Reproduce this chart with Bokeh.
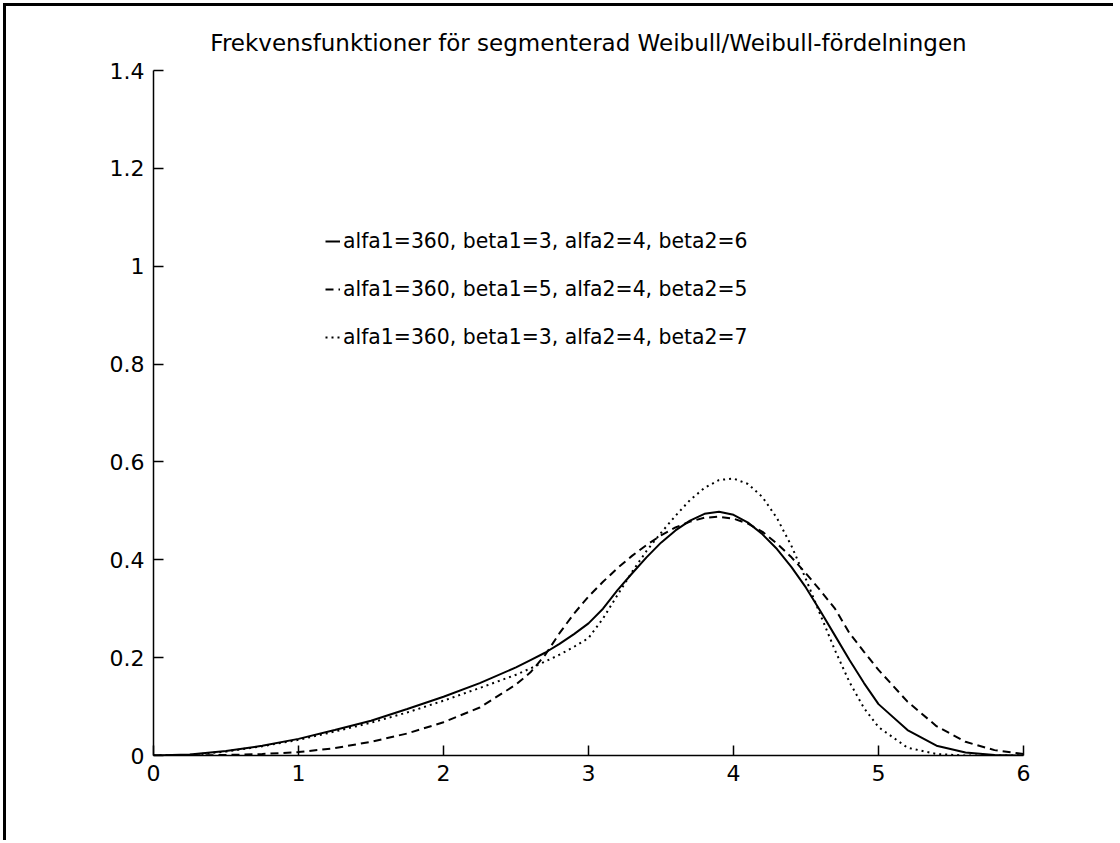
from bokeh.plotting import figure
from bokeh.models import Range1d, FixedTicker, Legend, LegendItem
from bokeh.embed import file_html
from bokeh.resources import INLINE

# ---- data ----
x_vals = [0.0, 0.25, 0.5, 0.75, 1.0, 1.25, 1.5, 1.75, 2.0, 2.25, 2.5, 2.6, 2.7, 2.8, 2.9,
          3.0, 3.1, 3.2, 3.3, 3.4, 3.5, 3.6, 3.7, 3.8, 3.9, 4.0, 4.1, 4.2, 4.3, 4.4,
          4.5, 4.6, 4.7, 4.8, 4.9, 5.0, 5.2, 5.4, 5.6, 5.8, 6.0]

solid_vals = [0.0, 0.002, 0.009, 0.02, 0.034, 0.052, 0.071, 0.095, 0.12, 0.148, 0.18, 0.195,
              0.21, 0.228, 0.248, 0.27, 0.30, 0.338, 0.372, 0.405, 0.435, 0.46, 0.48, 0.494,
              0.498, 0.492, 0.476, 0.452, 0.422, 0.385, 0.343, 0.295, 0.245, 0.195, 0.148,
              0.105, 0.052, 0.02, 0.006, 0.001, 0.0]

dashed_vals = [0.0, 0.0, 0.001, 0.003, 0.007, 0.015, 0.028, 0.045, 0.068, 0.098, 0.145, 0.17,
               0.205, 0.25, 0.29, 0.325, 0.355, 0.383, 0.408, 0.43, 0.45, 0.466, 0.478, 0.486,
               0.488, 0.484, 0.474, 0.457, 0.433, 0.405, 0.372, 0.337, 0.30, 0.25, 0.212,
               0.175, 0.11, 0.06, 0.028, 0.011, 0.003]

dotted_vals = [0.0, 0.001, 0.008, 0.019, 0.032, 0.049, 0.067, 0.088, 0.112, 0.138, 0.165, 0.178,
               0.192, 0.206, 0.222, 0.24, 0.28, 0.328, 0.375, 0.418, 0.455, 0.49, 0.522, 0.547,
               0.563, 0.566, 0.555, 0.528, 0.485, 0.428, 0.36, 0.287, 0.215, 0.15, 0.097,
               0.058, 0.016, 0.003, 0.0, 0.0, 0.0]

labels = ["alfa1=360, beta1=3, alfa2=4, beta2=6",
          "alfa1=360, beta1=5, alfa2=4, beta2=5",
          "alfa1=360, beta1=3, alfa2=4, beta2=7"]

x_ticks = [0, 1, 2, 3, 4, 5, 6]
y_ticks = [0, 0.2, 0.4, 0.6, 0.8, 1.0, 1.2, 1.4]
y_tick_labels = ["0", "0.2", "0.4", "0.6", "0.8", "1", "1.2", "1.4"]

title_text = "Frekvensfunktioner för segmenterad Weibull/Weibull-fördelningen"

FONT = "DejaVu Sans"

W, H = 1110, 837
p = figure(width=W, height=H, output_backend="svg", toolbar_location=None,
           x_range=Range1d(0, 6), y_range=Range1d(0, 1.4),
           min_border_left=147, min_border_right=W - 1017,
           min_border_top=64, min_border_bottom=H - 749,
           background_fill_color="white", border_fill_color="white")
p.styles = {"border-left": "3px solid black", "border-top": "3px solid black",
            "margin-left": "3px", "margin-top": "3px"}

p.title.text = title_text
p.title.text_font = FONT
p.title.text_font_size = "23px"
p.title.text_font_style = "normal"
p.title.align = "center"
p.title.standoff = 30
p.title.text_color = "black"

p.outline_line_color = None
p.grid.visible = False

for ax in (p.xaxis[0], p.yaxis[0]):
    ax.axis_line_color = "black"
    ax.axis_line_width = 1.5
    ax.major_tick_in = 10
    ax.major_tick_out = 0
    ax.major_tick_line_color = "black"
    ax.major_tick_line_width = 1.5
    ax.minor_tick_line_color = None
    ax.major_label_text_font = FONT
    ax.major_label_text_font_size = "22px"
    ax.major_label_text_color = "black"
    ax.major_label_standoff = 9

p.xaxis[0].ticker = FixedTicker(ticks=x_ticks)
p.yaxis[0].ticker = FixedTicker(ticks=y_ticks)
p.yaxis[0].major_label_overrides = {t: s for t, s in zip(y_ticks, y_tick_labels)}
p.xaxis[0].major_label_overrides = {t: str(t) for t in x_ticks}

r1 = p.line(x_vals, solid_vals, line_color="black", line_width=2)
r2 = p.line(x_vals, dashed_vals, line_color="black", line_width=2, line_dash="8 5")
r3 = p.line(x_vals, dotted_vals, line_color="black", line_width=2, line_dash="2 4")

legend = Legend(items=[LegendItem(label=labels[0], renderers=[r1]),
                       LegendItem(label=labels[1], renderers=[r2]),
                       LegendItem(label=labels[2], renderers=[r3])],
                location=(172, 406), orientation="vertical")
legend.border_line_color = None
legend.background_fill_alpha = 0
legend.padding = 0
legend.margin = 0
legend.spacing = 24
legend.glyph_width = 15
legend.glyph_height = 20
legend.label_height = 20
legend.label_standoff = 3
legend.label_text_font = FONT
legend.label_text_font_size = "20.4px"
legend.label_text_color = "black"
legend.label_text_baseline = "middle"
p.add_layout(legend, "center")

open("out.html", "w").write(file_html(p, INLINE))
